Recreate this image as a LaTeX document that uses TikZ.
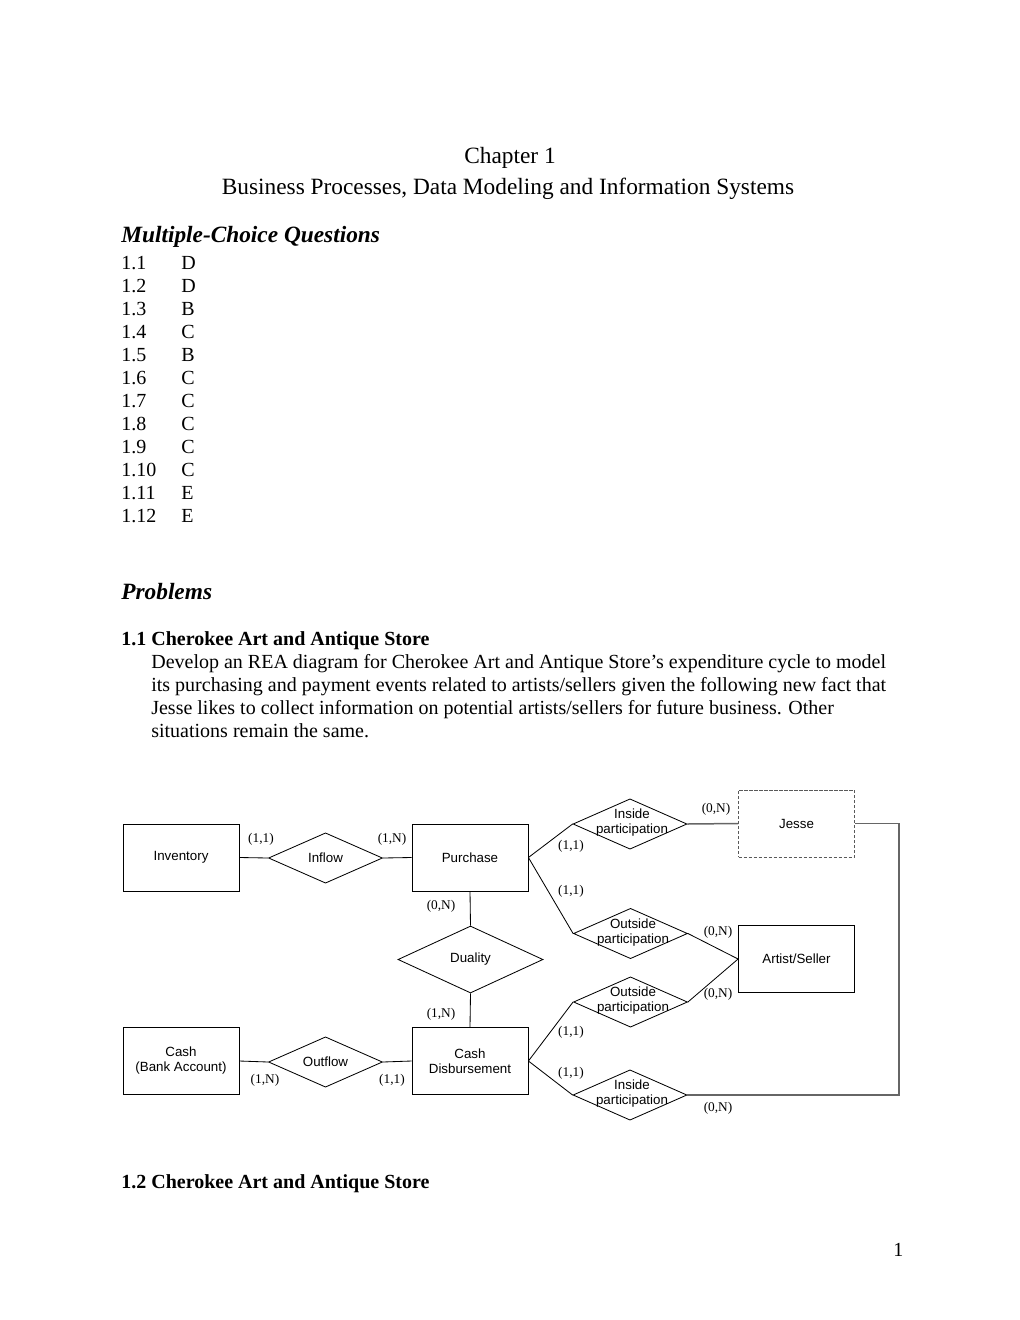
\documentclass[tikz,border=0pt]{standalone}
\usepackage{fontspec}
\setmainfont{Liberation Serif}
\newfontfamily\arialf{Liberation Sans}
\usetikzlibrary{shapes.geometric}
\begin{document}
\begin{tikzpicture}[x=0.6pt,y=-0.6pt,
  txt/.style={anchor=base west, inner sep=0, font=\fontsize{12}{13.8}\selectfont},
  ttl/.style={anchor=base, inner sep=0, font=\fontsize{14}{16}\selectfont},
  ent/.style={draw, line width=0.5pt, minimum width=69.6pt, minimum height=40.2pt, inner sep=0, align=center, font=\arialf\fontsize{8}{9}\selectfont},
  rel/.style={draw, shape=diamond, line width=0.5pt, minimum width=68.4pt, minimum height=30.2pt, inner sep=0},
  dtext/.style={inner sep=0, align=center, font=\arialf\fontsize{8}{9}\selectfont},
  card/.style={inner sep=0, font=\fontsize{8}{9}\selectfont},
  conn/.style={line width=0.5pt},
  gconn/.style={line width=0.9pt, draw=black!60}]
\useasboundingbox (0,0) rectangle (1020,1320);
% headings
\node[ttl] (t1) at (510,163) {Chapter 1};
\node[ttl] (t2) at (508,194) {Business Processes, Data Modeling and Information Systems};
\node[anchor=base west, inner sep=0, font=\fontsize{14}{16}\selectfont\bfseries\itshape] (h1) at (121,242) {Multiple-Choice Questions};
% list
\foreach \n/\a/\y in {1.1/D/269, 1.2/D/292, 1.3/B/315, 1.4/C/338, 1.5/B/361, 1.6/C/384, 1.7/C/407, 1.8/C/430, 1.9/C/453, 1.10/C/476, 1.11/E/499, 1.12/E/522}{
  \node[txt] (q\n) at (121,\y) {\n};
  \node[txt] (a\n) at (181,\y) {\a};
}
\node[anchor=base west, inner sep=0, font=\fontsize{14}{16}\selectfont\bfseries\itshape] (h2) at (121,599) {Problems};
\node[txt, font=\fontsize{12}{13.8}\selectfont\bfseries] (p11) at (121,645) {1.1 Cherokee Art and Antique Store};
\node[txt] (l1) at (151,668) {Develop an REA diagram for Cherokee Art and Antique Store’s expenditure cycle to model};
\node[txt] (l2) at (151,691) {its purchasing and payment events related to artists/sellers given the following new fact that};
\node[txt] (l3) at (151,714) {Jesse likes to collect information on potential artists/sellers for future business. Other};
\node[txt] (l4) at (151,737) {situations remain the same.};
\node[txt, font=\fontsize{12}{13.8}\selectfont\bfseries] (p12) at (121,1188) {1.2 Cherokee Art and Antique Store};
\node[txt] (pg) at (893,1256) {1};
% entities
\node[ent] (inv) at (181,857.5) {Inventory};
\node[ent] (pur) at (470,857.5) {Purchase};
\node[ent, draw=black!65, dash pattern=on 2pt off 1pt, line width=0.6pt] (jes) at (796.5,823.5) {Jesse};
\node[ent] (art) at (796.5,959) {Artist/Seller};
\node[ent] (cash) at (181,1061) {Cash\\(Bank Account)};
\node[ent] (cd) at (470,1061) {Cash\\Disbursement};
% relationships
\node[rel] (inf) at (325.5,858) {};
\node[rel] (outf) at (325.5,1062) {};
\node[rel, minimum width=87pt, minimum height=40.2pt] (dua) at (470.5,959.5) {};
\node[rel] (ip1) at (630,824) {};
\node[rel] (op1) at (630.5,933.5) {};
\node[rel] (op2) at (630.5,1002) {};
\node[rel] (ip2) at (630,1095) {};
\node[dtext] (tinf) at (inf) {Inflow};
\node[dtext] (toutf) at (outf) {Outflow};
\node[dtext] (tdua) at (dua) {Duality};
\node[dtext] (tip1) at (632,823) {Inside\\participation};
\node[dtext] (top1) at (633,933) {Outside\\participation};
\node[dtext] (top2) at (633,1001) {Outside\\participation};
\node[dtext] (tip2) at (632,1094) {Inside\\participation};
% connectors
\draw[conn] (inv.east) -- (inf.west);
\draw[conn] (inf.east) -- (pur.west);
\draw[conn] (pur.south) -- (dua.north);
\draw[conn] (dua.south) -- (cd.north);
\draw[conn] (cash.east) -- (outf.west);
\draw[conn] (outf.east) -- (cd.west);
\draw[conn] (pur.east) -- (ip1.west);
\draw[conn] (pur.east) -- (op1.west);
\draw[conn] (cd.east) -- (op2.west);
\draw[conn] (cd.east) -- (ip2.west);
\draw[conn] (op1.east) -- (art.west);
\draw[conn] (op2.east) -- (art.west);
\draw[gconn] (ip1.east) -- (jes.west);
\coordinate (rc) at (899,0);
\draw[gconn] (jes.east) -- (jes.east -| rc) -- (rc |- ip2.east) -- (ip2.east);
% cardinalities
\node[card] (c1) at (261,839) {(1,1)};
\node[card] (c2) at (392,839) {(1,N)};
\node[card] (c3) at (441,906) {(0,N)};
\node[card] (c4) at (441,1014) {(1,N)};
\node[card] (c5) at (265,1080) {(1,N)};
\node[card] (c6) at (392,1080) {(1,1)};
\node[card] (c7) at (716,809) {(0,N)};
\node[card] (c8) at (571,846) {(1,1)};
\node[card] (c9) at (571,891) {(1,1)};
\node[card] (c10) at (718,932) {(0,N)};
\node[card] (c11) at (718,994) {(0,N)};
\node[card] (c12) at (571,1032) {(1,1)};
\node[card] (c13) at (571,1073) {(1,1)};
\node[card] (c14) at (718,1108) {(0,N)};
\end{tikzpicture}
\end{document}
